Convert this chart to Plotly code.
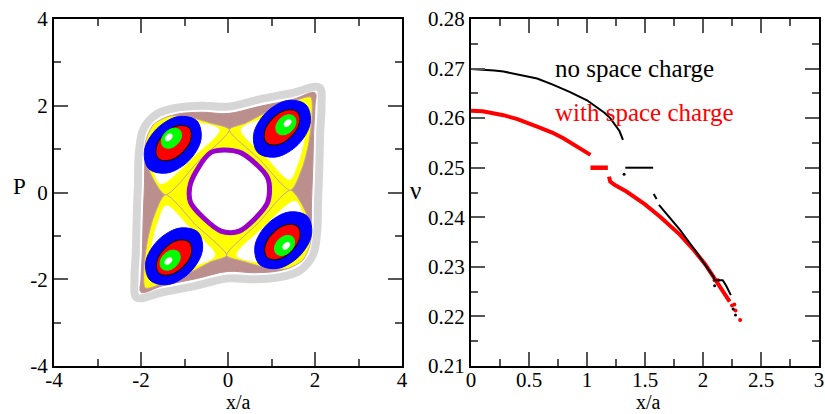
import plotly.graph_objects as go

# ================= LEFT PANEL: phase space (x/a, P) =================
# outlines (data units)
gray_band = [(2.1, 2.42), (1.5, 2.3), (0.7, 2.14), (0.0, 1.98), (-0.6, 2.0), (-1.2, 1.95),
             (-1.65, 1.8), (-1.95, 1.45), (-2.05, 0.9), (-2.07, 0.2), (-2.1, -0.6), (-2.12, -1.4),
             (-2.15, -2.0), (-2.1, -2.42), (-1.5, -2.3), (-0.7, -2.14), (0.0, -1.98), (0.6, -2.0),
             (1.2, -1.95), (1.65, -1.8), (1.95, -1.45), (2.05, -0.9), (2.07, -0.2), (2.1, 0.6),
             (2.12, 1.4), (2.15, 2.0)]
brown_region = [(2.0, 2.3), (1.5, 2.15), (0.7, 1.98), (0.0, 1.82), (-0.6, 1.85), (-1.2, 1.8),
                (-1.55, 1.66), (-1.8, 1.35), (-1.9, 0.9), (-1.92, 0.2), (-1.95, -0.6), (-1.97, -1.4),
                (-2.0, -2.0), (-2.0, -2.3), (-1.5, -2.15), (-0.7, -1.98), (0.0, -1.82), (0.6, -1.85),
                (1.2, -1.8), (1.55, -1.66), (1.8, -1.35), (1.9, -0.9), (1.92, -0.2), (1.95, 0.6),
                (1.97, 1.4), (2.0, 2.0)]
diamond = [(0.03, 1.45), (1.44, 0.05), (-0.03, -1.45), (-1.44, -0.05)]
lobe_tr = [(0.03, 1.45), (0.4, 1.6), (0.9, 1.86), (1.45, 2.08), (1.9, 2.2), (1.93, 1.7),
           (1.85, 1.1), (1.72, 0.6), (1.44, 0.05), (0.74, 0.75)]
lobe_tl = [(0.03, 1.45), (-0.4, 1.6), (-0.9, 1.74), (-1.35, 1.76), (-1.72, 1.56), (-1.9, 1.15),
           (-1.85, 0.6), (-1.44, -0.05), (-0.7, 0.7)]
lobe_bl = [(-0.03, -1.45), (-0.4, -1.6), (-0.9, -1.86), (-1.45, -2.08), (-1.9, -2.2), (-1.93, -1.7),
           (-1.85, -1.1), (-1.72, -0.6), (-1.44, -0.05), (-0.74, -0.75)]
lobe_br = [(-0.03, -1.45), (0.4, -1.6), (0.9, -1.74), (1.35, -1.76), (1.72, -1.56), (1.9, -1.15),
           (1.85, -0.6), (1.44, 0.05), (0.7, -0.7)]
gap_tr = [(0.3, 1.45), (0.9, 1.74), (1.45, 1.96), (1.78, 2.05), (1.8, 1.65), (1.73, 1.1),
          (1.6, 0.65), (1.42, 0.3), (0.85, 0.85)]
gap_tl = [(-0.2, 1.45), (-0.85, 1.63), (-1.3, 1.64), (-1.62, 1.47), (-1.77, 1.12), (-1.75, 0.65),
          (-1.55, 0.2), (-0.8, 0.82)]
gap_bl = [(-0.3, -1.45), (-0.9, -1.74), (-1.45, -1.96), (-1.78, -2.05), (-1.8, -1.65), (-1.73, -1.1),
          (-1.6, -0.65), (-1.42, -0.3), (-0.85, -0.85)]
gap_br = [(0.2, -1.45), (0.85, -1.63), (1.3, -1.64), (1.62, -1.47), (1.77, -1.12), (1.75, -0.65),
          (1.55, -0.2), (0.8, -0.82)]
purple_ring = [(-0.38, 0.93), (0.26, 0.93), (0.91, 0.34), (0.91, -0.23), (0.26, -0.89),
               (-0.16, -0.89), (-0.86, -0.23), (-0.86, 0.21)]

# island ring outlines (offsets from island centre) and centres (TR, TL, BL, BR)
blue_ring = [(0.552, 0.552), (0.13, 0.65), (-0.368, 0.368), (-0.65, -0.13), (-0.552, -0.552),
             (-0.13, -0.65), (0.368, -0.368), (0.65, 0.13)]
red_ring = [(0.354, 0.354), (0.1, 0.4), (-0.212, 0.212), (-0.4, -0.1), (-0.354, -0.354),
            (-0.1, -0.4), (0.212, -0.212), (0.4, 0.1)]
green_ring = [(0.191, 0.191), (0.04, 0.23), (-0.134, 0.134), (-0.23, -0.04), (-0.191, -0.191),
              (-0.04, -0.23), (0.134, -0.134), (0.23, 0.04)]
core_ring = [(0.071, 0.071), (0.018, 0.083), (-0.046, 0.046), (-0.083, -0.018), (-0.071, -0.071),
             (-0.018, -0.083), (0.046, -0.046), (0.083, 0.018)]
blue_centres = [(1.24, 1.47), (-1.27, 1.1), (-1.24, -1.47), (1.27, -1.1)]
red_centres = [(1.24, 1.5), (-1.25, 1.14), (-1.24, -1.5), (1.25, -1.14)]
green_centres = [(1.33, 1.56), (-1.3, 1.25), (-1.33, -1.56), (1.3, -1.22)]
core_centres = [(1.37, 1.6), (-1.36, 1.27), (-1.37, -1.58), (1.34, -1.23)]

# ================= RIGHT PANEL: tune vs amplitude =================
nosc_x1 = [0.0, 0.1, 0.2, 0.28, 0.4, 0.57, 0.7, 0.85, 1.0, 1.08, 1.15, 1.2, 1.25, 1.28, 1.31]
nosc_y1 = [0.2699, 0.2698, 0.2696, 0.2694, 0.2688, 0.2680, 0.2668, 0.2653, 0.2636, 0.2623,
           0.2611, 0.2600, 0.2584, 0.2574, 0.2556]
nosc_x2 = [1.33, 1.57]
nosc_y2 = [0.25, 0.25]
nosc_x3 = [1.575, 1.6]
nosc_y3 = [0.2447, 0.2437]
nosc_x4 = [1.62, 1.7, 1.8, 1.93, 2.0, 2.09, 2.1, 2.17, 2.2, 2.24]
nosc_y4 = [0.2425, 0.2402, 0.2375, 0.2334, 0.2311, 0.2280, 0.2273, 0.2273, 0.2262, 0.2243]
nosc_dx = [1.32, 2.1, 2.26, 2.28]
nosc_dy = [0.2487, 0.2262, 0.2215, 0.2203]

sc_x1 = [0.0, 0.1, 0.28, 0.4, 0.57, 0.7, 0.8, 0.94, 1.03]
sc_y1 = [0.2615, 0.2614, 0.2606, 0.2598, 0.2583, 0.2571, 0.2559, 0.2539, 0.2526]
sc_x2 = [1.03, 1.18]
sc_y2 = [0.25, 0.25]
sc_x3 = [1.19, 1.2, 1.24, 1.34, 1.5, 1.63, 1.8, 1.92, 2.02, 2.09, 2.15, 2.2, 2.23]
sc_y3 = [0.2482, 0.2472, 0.2465, 0.2452, 0.2426, 0.2401, 0.2365, 0.2334, 0.2305, 0.2280,
         0.2262, 0.2243, 0.2230]
sc_dx = [2.1, 2.13, 2.25, 2.27, 2.28, 2.32]
sc_dy = [0.2273, 0.2273, 0.2222, 0.2224, 0.2212, 0.2193]

left_ticks = [-4, -2, 0, 2, 4]
left_ticktext = ["-4", "-2", "0", "2", "4"]
right_xticks = [0, 0.5, 1, 1.5, 2, 2.5, 3]
right_xticktext = ["0", "0.5", "1", "1.5", "2", "2.5", "3"]
right_yticks = [0.21, 0.22, 0.23, 0.24, 0.25, 0.26, 0.27, 0.28]
right_yticktext = ["0.21", "0.22", "0.23", "0.24", "0.25", "0.26", "0.27", "0.28"]

SERIF = "Liberation Serif, Times New Roman, serif"
GRAY, BROWN, YELLOW = "#d6d6d6", "#bc8f8f", "#ffff00"
BLUE, RED, GREEN, PURPLE = "#0000ff", "#ff0000", "#00ff00", "#9a00cc"

fig = go.Figure()


def closed(pts):
    xs = [p[0] for p in pts] + [pts[0][0]]
    ys = [p[1] for p in pts] + [pts[0][1]]
    return xs, ys


def poly(pts, fillcolor=None, linecolor=None, width=0.0, spline=True, smoothing=1.0):
    xs, ys = closed(pts)
    fig.add_trace(go.Scatter(
        x=xs, y=ys, mode="lines",
        fill="toself" if fillcolor else "none",
        fillcolor=fillcolor,
        line=dict(color=linecolor or fillcolor or "rgba(0,0,0,0)", width=width,
                  shape="spline" if spline else "linear", smoothing=smoothing),
        hoverinfo="skip", showlegend=False, xaxis="x", yaxis="y"))


def island(ring, centre, **kw):
    pts = [(centre[0] + dx, centre[1] + dy) for dx, dy in ring]
    poly(pts, **kw)


# outer gray band, brown region
poly(gray_band, None, GRAY, 8)
poly(brown_region, BROWN, BROWN, 1)
# central diamond and lobes (yellow chaotic layers)
poly(diamond, YELLOW, YELLOW, 1, spline=False)
for lobe in (lobe_tr, lobe_tl, lobe_bl, lobe_br):
    poly(lobe, YELLOW, "#c8a0a0", 1, smoothing=0.7)
for gap in (gap_tr, gap_tl, gap_bl, gap_br):
    poly(gap, "#ffffff", "#ffffff", 0.5, smoothing=0.9)
# islands
for c in blue_centres:
    island(blue_ring, c, fillcolor=BLUE, linecolor=BLUE, width=1)
for c in red_centres:
    island(red_ring, c, fillcolor=RED, linecolor="#111111", width=1.2)
for c in green_centres:
    island(green_ring, c, fillcolor=GREEN, linecolor=GREEN, width=1)
for c in core_centres:
    island(core_ring, c, fillcolor="#ffffff", linecolor="#ffffff", width=0.5)
# purple invariant curve around the centre
poly(purple_ring, "#ffffff", PURPLE, 5, smoothing=0.8)

# ---------- right panel traces ----------
def line2(x, y, color, width):
    fig.add_trace(go.Scatter(x=x, y=y, mode="lines", line=dict(color=color, width=width),
                             hoverinfo="skip", showlegend=False, xaxis="x2", yaxis="y2"))


def dots2(x, y, color, size):
    fig.add_trace(go.Scatter(x=x, y=y, mode="markers", marker=dict(color=color, size=size),
                             hoverinfo="skip", showlegend=False, xaxis="x2", yaxis="y2"))


line2(sc_x1, sc_y1, RED, 4)
line2(sc_x2, sc_y2, RED, 4.5)
line2(sc_x3, sc_y3, RED, 4)
dots2(sc_dx, sc_dy, RED, 4)
line2(nosc_x1, nosc_y1, "#000000", 2)
line2(nosc_x2, nosc_y2, "#000000", 2)
line2(nosc_x3, nosc_y3, "#000000", 2)
line2(nosc_x4, nosc_y4, "#000000", 2)
dots2(nosc_dx, nosc_dy, "#000000", 3)

axis_common = dict(
    showline=True, linecolor="#000000", linewidth=2, mirror="ticks",
    ticks="inside", ticklen=14, tickwidth=2, tickcolor="#555555",
    showgrid=False, zeroline=False, automargin=False,
    tickfont=dict(family=SERIF, size=21, color="#000000"),
)


def label(text, px, py, size):
    return dict(text=text, x=px / 825, y=(366 - py) / 347, xref="paper", yref="paper",
                xanchor="center", yanchor="middle", showarrow=False,
                font=dict(family=SERIF, size=size, color="#000000"))


fig.update_layout(
    width=825, height=414,
    margin=dict(l=0, r=0, t=19, b=48, autoexpand=False),
    paper_bgcolor="#ffffff", plot_bgcolor="#ffffff",
    xaxis=dict(domain=[54 / 825, 402 / 825], range=[-4, 4], anchor="y",
               tickvals=left_ticks, ticktext=left_ticktext, ticklabelstandoff=-6,
               minor=dict(dtick=1, ticks="inside", ticklen=7, tickwidth=2, tickcolor="#555555"),
               **axis_common),
    yaxis=dict(domain=[0, 1], range=[-4, 4], anchor="x",
               tickvals=left_ticks, ticktext=left_ticktext,
               minor=dict(dtick=1, ticks="inside", ticklen=7, tickwidth=2, tickcolor="#555555"),
               **axis_common),
    xaxis2=dict(domain=[471 / 825, 819 / 825], range=[0, 3], anchor="y2",
                tickvals=right_xticks, ticktext=right_xticktext, ticklabelstandoff=-6,
                minor=dict(dtick=0.25, tick0=0, ticks="inside", ticklen=7, tickwidth=2,
                           tickcolor="#555555"),
                **axis_common),
    yaxis2=dict(domain=[0, 1], range=[0.21, 0.28], anchor="x2",
                tickvals=right_yticks, ticktext=right_yticktext,
                minor=dict(dtick=0.005, tick0=0.21, ticks="inside", ticklen=7, tickwidth=2,
                           tickcolor="#555555"),
                **axis_common),
    annotations=[
        label("P", 19, 186, 23),
        label("x/a", 238, 402, 20),
        label("ν", 415, 190, 25),
        label("x/a", 648, 402, 20),
        dict(text="no space charge", x=0.707, y=0.2701, xref="x2", yref="y2",
             xanchor="left", yanchor="middle", showarrow=False,
             font=dict(family=SERIF, size=25, color="#000000")),
        dict(text="with space charge", x=0.707, y=0.2612, xref="x2", yref="y2",
             xanchor="left", yanchor="middle", showarrow=False,
             font=dict(family=SERIF, size=25, color="#ff0000")),
    ],
)

fig.write_html("out.html")
